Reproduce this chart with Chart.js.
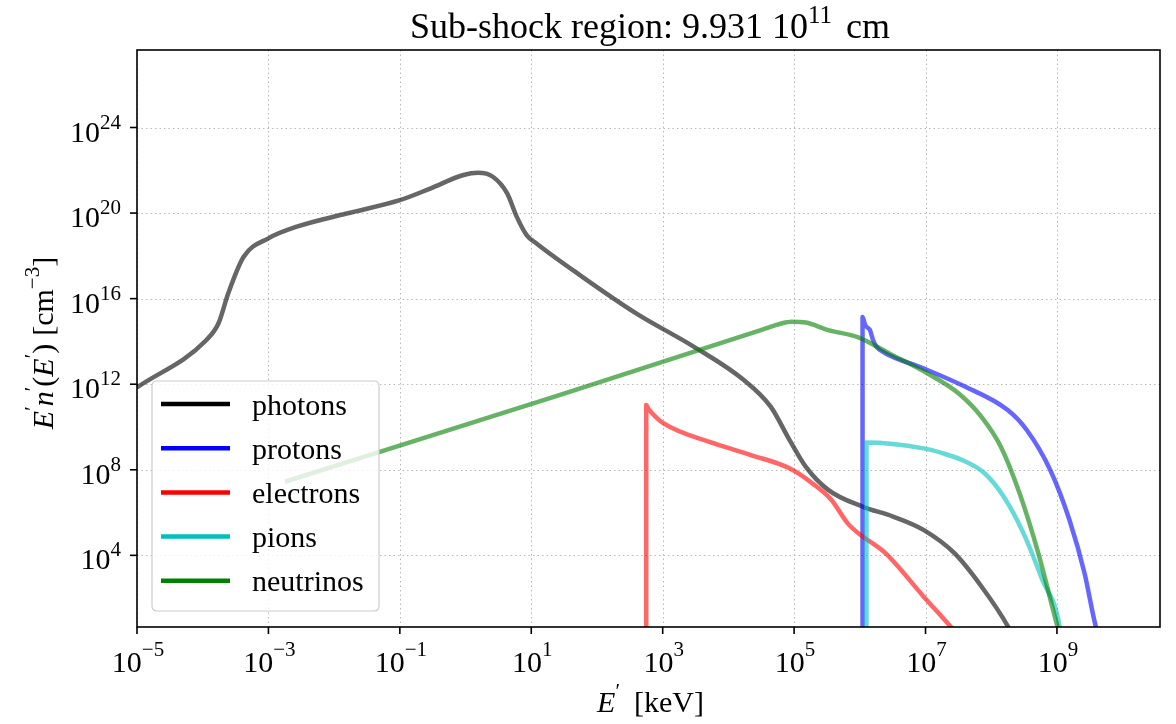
<!DOCTYPE html>
<html><head><meta charset="utf-8">
<script src="https://cdn.jsdelivr.net/npm/chart.js@4/dist/chart.umd.min.js"></script>
<style>html,body{margin:0;padding:0;background:#fff;} #wrap{width:1176px;height:724px;}</style>
</head><body><div id="wrap"><canvas id="c" width="1176" height="724"></canvas></div>
<script>
// ---- data (E' in keV, E'n'(E') in cm^-3) ----
const photonsE = [1e-5, 1.15e-4, 1.74e-4, 2.45e-4, 4.2e-4, 1e-3, 2.7e-3, 1.55e-2, 0.1, 0.29, 0.93, 1.55, 2.6, 4.3, 6, 8.5, 12, 55, 400, 3000, 1.7e4, 4.4e4, 8.5e4, 1.5e5, 3.3e5, 1.1e6, 3.2e6, 9.3e6, 2.75e7, 7.1e7, 1.8e8, 2.5e8];
const photonsV = [7.1e11, 1.2e14, 7.1e14, 1.8e16, 9.1e17, 6.6e18, 2.3e19, 9.5e19, 4e20, 1.4e21, 6e21, 7.6e21, 5e21, 8.3e20, 6.8e19, 9.3e18, 3.8e18, 1.26e17, 2e15, 5.6e13, 1.6e12, 8.9e10, 2.5e9, 1.4e8, 1.15e7, 1.9e6, 6.5e5, 1.55e5, 1.26e4, 350, 4.7, 0.6];

const protonsE = [1.1e6, 1.1e6, 1.2e6, 1.3e6, 1.42e6, 1.6e6, 1.8e6, 2.4e6, 9.3e6, 3.55e7, 1.78e8, 3.47e8, 7.9e8, 1.55e9, 2.63e9, 3.9e9, 4.6e9];
const protonsV = [0.1, 1.4e15, 6e14, 4.5e14, 3.5e14, 1.1e14, 5.6e13, 2.9e13, 5.5e12, 9.1e11, 6.2e10, 7.2e9, 9.8e7, 4.5e5, 1.45e3, 4.7, 1.1];

const electronsE = [562, 562, 600, 690, 1020, 5900, 2.2e4, 8.5e4, 1.9e5, 3.7e5, 6.5e5, 9.5e5, 2.45e6, 9.3e6, 2.4e7, 4e7];
const electronsV = [0.1, 1.07e11, 7.4e10, 4.4e10, 1.5e10, 1.74e9, 4.9e8, 1.17e8, 2.3e7, 3.9e6, 3.2e5, 1.07e5, 1.26e4, 120, 4.7, 0.74];

const pionsE = [1.26e6, 1.26e6, 9.3e6, 1.8e7, 3.55e7, 7.9e7, 1.55e8, 3.1e8, 6e8, 1.1e9, 1.2e9];
const pionsV = [0.1, 1.86e9, 1e9, 6e8, 2.9e8, 6.9e7, 5.5e6, 1.07e5, 710, 4.7, 0.5];

const neutrinosE = [1.78e-3, 27.5, 3.2e4, 6.6e4, 9.1e4, 1.5e5, 3.3e5, 9.5e5, 2.8e6, 1.07e7, 3.2e7, 7.1e7, 1.4e8, 2.7e8, 5.2e8, 1.02e9, 1.26e9];
const neutrinosV = [2.75e7, 3.2e11, 3.5e14, 7.1e14, 8.3e14, 7.6e14, 3.4e14, 1.55e14, 2.75e13, 3.2e12, 3.7e11, 3e10, 1.2e9, 7.9e6, 1.26e4, 4.7, 0.5];

const seriesLabels = ['photons', 'protons', 'electrons', 'pions', 'neutrinos'];
const xTickExps = [-5, -3, -1, 1, 3, 5, 7, 9];
const yTickExps = [4, 8, 12, 16, 20, 24];
const xRange = [1e-5, 3.7e10];
const yRange = [4.47, 4.2e27];

// ---- styles ----
const baseColors = ['0,0,0', '0,0,255', '255,0,0', '0,191,191', '0,128,0'];
const SERIF = '"Liberation Serif", "Times New Roman", Times, serif';

function pts(E, V) { return E.map((e, i) => ({x: e, y: V[i]})); }
const allE = [photonsE, protonsE, electronsE, pionsE, neutrinosE];
const allV = [photonsV, protonsV, electronsV, pionsV, neutrinosV];

const datasets = seriesLabels.map((lab, i) => ({
  label: lab,
  data: pts(allE[i], allV[i]),
  borderColor: 'rgba(' + baseColors[i] + ',0.6)',
  backgroundColor: 'rgba(' + baseColors[i] + ',1)',
  borderWidth: 4.5,
  pointRadius: 0,
  fill: false,
  cubicInterpolationMode: 'monotone',
  borderJoinStyle: 'round',
  clip: 0,
  order: 5 - i
}));

function fontOf(p) { return (p.italic ? 'italic ' : '') + p.size + 'px ' + SERIF; }
function richWidth(ctx, parts) {
  let w = 0;
  for (const p of parts) { if (p.gap) { w += p.gap; continue; } ctx.font = fontOf(p); w += ctx.measureText(p.t).width; }
  return w;
}
function drawRich(ctx, parts, x, y, align) {
  const w = richWidth(ctx, parts);
  let cx = align === 'center' ? x - w / 2 : (align === 'right' ? x - w : x);
  ctx.textAlign = 'left'; ctx.textBaseline = 'alphabetic';
  for (const p of parts) {
    if (p.gap) { cx += p.gap; continue; }
    ctx.font = fontOf(p);
    ctx.fillText(p.t, cx, y - (p.raise || 0));
    cx += ctx.measureText(p.t).width;
  }
}
function expStr(e) { return e < 0 ? '\u2212' + Math.abs(e) : String(e); }

const decor = {
  id: 'decor',
  beforeDatasetsDraw(chart) {
    const ctx = chart.ctx, a = chart.chartArea, xs = chart.scales.x, ys = chart.scales.y;
    ctx.save();
    ctx.strokeStyle = '#b8b8b8'; ctx.lineWidth = 1; ctx.setLineDash([1.5, 3]);
    xTickExps.forEach(e => {
      const px = Math.round(xs.getPixelForValue(Math.pow(10, e))) + 0.5;
      ctx.beginPath(); ctx.moveTo(px, a.top); ctx.lineTo(px, a.bottom); ctx.stroke();
    });
    yTickExps.forEach(e => {
      const py = Math.round(ys.getPixelForValue(Math.pow(10, e))) + 0.5;
      ctx.beginPath(); ctx.moveTo(a.left, py); ctx.lineTo(a.right, py); ctx.stroke();
    });
    ctx.restore();
  },
  afterDatasetsDraw(chart) {
    const ctx = chart.ctx, a = chart.chartArea, xs = chart.scales.x, ys = chart.scales.y;
    ctx.save();
    // frame
    ctx.strokeStyle = '#000'; ctx.lineWidth = 1.6; ctx.setLineDash([]);
    ctx.strokeRect(a.left, a.top, a.right - a.left, a.bottom - a.top);
    // ticks + labels
    ctx.fillStyle = '#000';
    xTickExps.forEach(e => {
      const px = xs.getPixelForValue(Math.pow(10, e));
      ctx.beginPath(); ctx.moveTo(px, a.bottom); ctx.lineTo(px, a.bottom + 7); ctx.stroke();
      drawRich(ctx, [{t: '10', size: 30}, {t: expStr(e), size: 21, raise: 16}], px + 1, a.bottom + 45, 'center');
    });
    yTickExps.forEach(e => {
      const py = ys.getPixelForValue(Math.pow(10, e));
      ctx.beginPath(); ctx.moveTo(a.left, py); ctx.lineTo(a.left - 7, py); ctx.stroke();
      drawRich(ctx, [{t: '10', size: 30}, {t: expStr(e), size: 21, raise: 13}], a.left - 16, py + 14, 'right');
    });
    // legend
    const lx = 152, ly = 381, lw = 227, lh = 230, r = 5;
    ctx.beginPath();
    ctx.moveTo(lx + r, ly); ctx.lineTo(lx + lw - r, ly); ctx.quadraticCurveTo(lx + lw, ly, lx + lw, ly + r);
    ctx.lineTo(lx + lw, ly + lh - r); ctx.quadraticCurveTo(lx + lw, ly + lh, lx + lw - r, ly + lh);
    ctx.lineTo(lx + r, ly + lh); ctx.quadraticCurveTo(lx, ly + lh, lx, ly + lh - r);
    ctx.lineTo(lx, ly + r); ctx.quadraticCurveTo(lx, ly, lx + r, ly); ctx.closePath();
    ctx.fillStyle = 'rgba(255,255,255,0.8)'; ctx.fill();
    ctx.strokeStyle = '#cccccc'; ctx.lineWidth = 1.2; ctx.stroke();
    chart.data.datasets.forEach((ds, i) => {
      const yy = 404 + i * 44.2;
      ctx.strokeStyle = ds.backgroundColor; ctx.lineWidth = 4.5;
      ctx.beginPath(); ctx.moveTo(161, yy); ctx.lineTo(230, yy); ctx.stroke();
      ctx.fillStyle = '#000'; ctx.font = '30px ' + SERIF; ctx.textAlign = 'left'; ctx.textBaseline = 'alphabetic';
      ctx.fillText(ds.label, 252, yy + 10.5);
    });
    // title
    ctx.fillStyle = '#000';
    drawRich(ctx, [{t: 'Sub-shock region: 9.931 ', size: 36}, {t: '10', size: 36}, {t: '11', size: 25, raise: 15}, {gap: 5}, {t: ' cm', size: 36}], 650, 38, 'center');
    // x label
    drawRich(ctx, [{t: 'E', size: 30, italic: true}, {t: '\u2032', size: 21, raise: 14}, {gap: 14}, {t: '[keV]', size: 30}], (a.left + a.right) / 2 + 2, 712, 'center');
    // y label
    ctx.translate(53, 343); ctx.rotate(-Math.PI / 2);
    drawRich(ctx, [
      {t: 'E', size: 30, italic: true}, {t: '\u2032', size: 21, raise: 14},
      {t: 'n', size: 30, italic: true}, {t: '\u2032', size: 21, raise: 14},
      {t: '(', size: 30}, {t: 'E', size: 30, italic: true}, {t: '\u2032', size: 21, raise: 14}, {t: ')', size: 30},
      {gap: 8}, {t: '[cm', size: 30}, {t: '\u22123', size: 21, raise: 14}, {t: ']', size: 30}
    ], 0, 0, 'center');
    ctx.restore();
  }
};

new Chart(document.getElementById('c'), {
  type: 'line',
  data: {datasets},
  options: {
    responsive: false, animation: false, devicePixelRatio: 1,
    layout: {padding: {top: 50, right: 16, left: 0, bottom: 0}},
    plugins: {legend: {display: false}, title: {display: false}, tooltip: {enabled: false}},
    scales: {
      x: {
        type: 'logarithmic', position: 'bottom', min: xRange[0], max: xRange[1],
        grid: {display: false}, border: {display: false}, ticks: {display: false},
        afterBuildTicks: s => { s.ticks = xTickExps.map(e => ({value: Math.pow(10, e)})); },
        afterFit: s => { s.height = 97; }
      },
      y: {
        type: 'logarithmic', position: 'left', min: yRange[0], max: yRange[1],
        grid: {display: false}, border: {display: false}, ticks: {display: false},
        afterBuildTicks: s => { s.ticks = yTickExps.map(e => ({value: Math.pow(10, e)})); },
        afterFit: s => { s.width = 137; }
      }
    }
  },
  plugins: [decor]
});
</script>
</body></html>
